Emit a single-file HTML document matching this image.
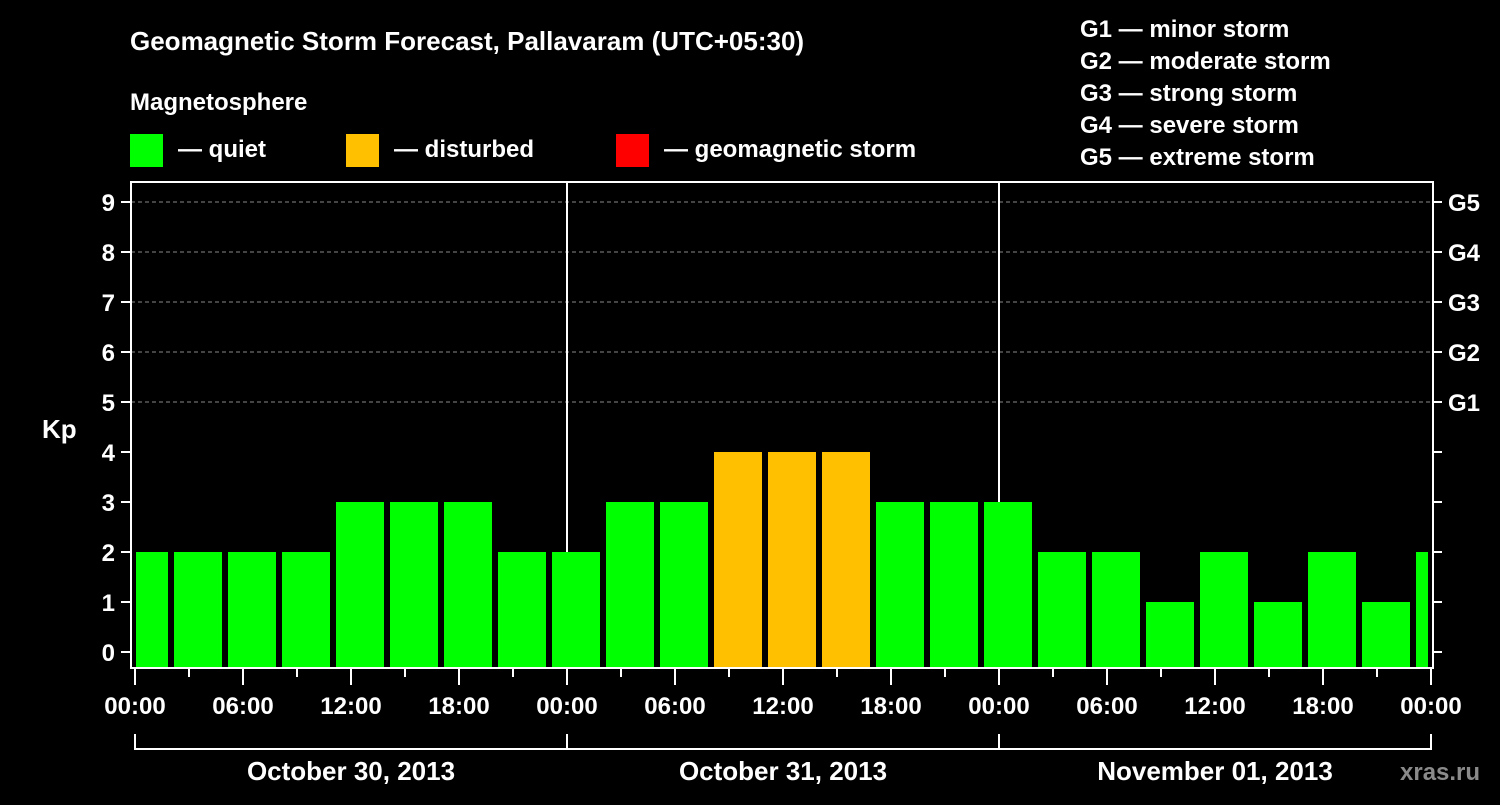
<!DOCTYPE html>
<html><head><meta charset="utf-8"><style>
body{margin:0;background:#000;width:1500px;height:800px;overflow:hidden;font-family:"Liberation Sans",sans-serif}
svg text{font-family:"Liberation Sans",sans-serif;font-weight:bold;fill:#fff}
</style></head><body>
<svg width="1500" height="800">
<text x="130" y="50" font-size="26">Geomagnetic Storm Forecast, Pallavaram (UTC+05:30)</text>
<text x="130" y="110" font-size="24">Magnetosphere</text>
<g><rect x="130" y="134" width="33" height="33" fill="#00ff00"/><text x="178" y="157" font-size="24">— quiet</text></g>
<g><rect x="346" y="134" width="33" height="33" fill="#ffc000"/><text x="394" y="157" font-size="24">— disturbed</text></g>
<g><rect x="616" y="134" width="33" height="33" fill="#ff0000"/><text x="664" y="157" font-size="24">— geomagnetic storm</text></g>
<g font-size="24">
<text x="1080" y="37">G1 — minor storm</text><text x="1080" y="69">G2 — moderate storm</text><text x="1080" y="101">G3 — strong storm</text><text x="1080" y="133">G4 — severe storm</text><text x="1080" y="165">G5 — extreme storm</text></g>
<text x="42" y="438" font-size="26">Kp</text>
<text x="1400" y="780" font-size="24" fill="#888" style="fill:#8a8a8a">xras.ru</text>
<g id="grid"></g><g id="bars"></g><g id="axes"></g>
</svg>
<script>
const kpValues=[2,2,2,2,3,3,3,2,2,3,3,4,4,4,3,3,3,2,2,1,2,1,2,1,2];
const yTicks=[0,1,2,3,4,5,6,7,8,9];
const gLabels=["G1","G2","G3","G4","G5"];
const timeLabels=["00:00","06:00","12:00","18:00"];
const dateLabels=["October 30, 2013","October 31, 2013","November 01, 2013"];
const NS="http://www.w3.org/2000/svg";
const X0=135,PXH=18,Y0=652,PXK=50,L=131,R=1433,T=182,B=668;
const xs=h=>X0+h*PXH, ys=k=>Y0-k*PXK;
function mk(t,a,p){const e=document.createElementNS(NS,t);for(const k in a)e.setAttribute(k,a[k]);p.appendChild(e);return e;}
const grid=document.getElementById('grid'),bars=document.getElementById('bars'),axes=document.getElementById('axes');
yTicks.forEach(k=>{if(k>=5){const l=mk('line',{x1:L,x2:R,y1:ys(k),y2:ys(k),stroke:'#888','stroke-dasharray':'4,3','stroke-width':1},grid);

}
const t=mk('line',{x1:L-10,x2:L,y1:ys(k),y2:ys(k),stroke:'#fff','stroke-width':2},axes);
const t2=mk('line',{x1:R,x2:R+9,y1:ys(k),y2:ys(k),stroke:'#fff','stroke-width':2},axes);
const tx=mk('text',{x:L-16,y:ys(k)+9,'font-size':24,'text-anchor':'end'},axes);tx.textContent=k;

});
gLabels.forEach((g,i)=>{const tx=mk('text',{x:1448,y:ys(5+i)+9,'font-size':24},axes);tx.textContent=g;

});
[24,48].forEach(h=>{const l=mk('line',{x1:xs(h),x2:xs(h),y1:T,y2:B,stroke:'#fff','stroke-width':2},grid);

});
kpValues.forEach((v,i)=>{let s=xs(3*i-5/6),e=s+48;s=Math.max(s,136);e=Math.min(e,1428);
const c=v>=5?'#ff0000':v>=4?'#ffc000':'#00ff00';
const r=mk('rect',{x:s,y:ys(v),width:e-s,height:B-ys(v),fill:c},bars);

});
mk('rect',{x:L,y:T,width:R-L,height:B-T,fill:'none',stroke:'#fff','stroke-width':2},axes);
for(let h=0;h<=72;h+=3){const maj=h%6==0;mk('line',{x1:xs(h),x2:xs(h),y1:B,y2:B+(maj?17:9),stroke:'#fff','stroke-width':2},axes);
if(maj){const tx=mk('text',{x:xs(h),y:B+46,'font-size':24,'text-anchor':'middle'},axes);tx.textContent=timeLabels[(h/6)%4];

}}
mk('polyline',{points:`${xs(0)},734 ${xs(0)},749 ${xs(72)},749 ${xs(72)},734`,fill:'none',stroke:'#fff','stroke-width':2},axes);
[24,48].forEach(h=>mk('line',{x1:xs(h),x2:xs(h),y1:734,y2:749,stroke:'#fff','stroke-width':2},axes));
dateLabels.forEach((d,i)=>{const tx=mk('text',{x:xs(24*i+12),y:780,'font-size':26,'text-anchor':'middle'},axes);tx.textContent=d;

});
</script>
</body></html>
